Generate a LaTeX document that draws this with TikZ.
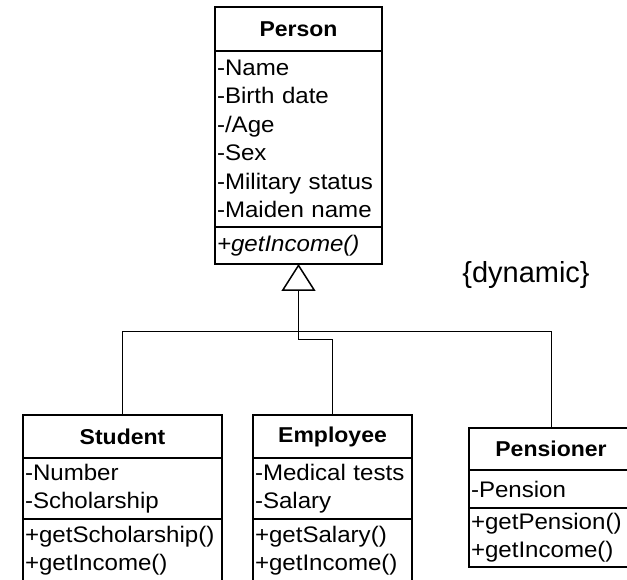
\documentclass[tikz,border=0pt]{standalone}
\usepackage{fontspec}
\setmainfont{Liberation Sans}[FakeStretch=1.07]
\newfontfamily\notefont{Liberation Sans}
\usetikzlibrary{positioning,arrows.meta}

\tikzset{
	classhead/.style={draw, line width=1.5pt, outer sep=0pt, inner xsep=2pt, inner ysep=0pt, text width=#1, align=center, font=\bfseries\fontsize{21.5}{28.5}\selectfont},
	classbody/.style={draw, line width=1.5pt, outer sep=0pt, inner xsep=2pt, inner ysep=0pt, text width=#1, align=left, font=\fontsize{22.5}{28.5}\selectfont},
	inherit/.style={line width=0.8pt},
}

\begin{document}
\begin{tikzpicture}[x=1pt,y=1pt]
		\useasboundingbox (0,0) rectangle (627,580);
		\clip (0,0) rectangle (627,580);

		\node[classhead=163pt, minimum height=44pt, anchor=north west] (person) at (215,573) {Person};
		\node[classbody=163pt, minimum height=176pt] (person-attr) [below=0pt of person] {-Name\\-Birth date\\-/Age\\-Sex\\-Military status\\-Maiden name};
		\node[classbody=163pt, minimum height=37pt] (person-ops) [below=0pt of person-attr] {\itshape +getIncome()};

		\node[classhead=195pt, minimum height=43pt, anchor=north west] (student) at (23,165) {Student};
		\node[classbody=195pt, minimum height=61pt] (student-attr) [below=0pt of student] {-Number\\-Scholarship};
		\node[classbody=195pt, minimum height=63pt] (student-ops) [below=0pt of student-attr] {+getScholarship()\\+getIncome()};

		\node[classhead=155pt, minimum height=43pt, anchor=north west] (employee) at (253,165) {Employee};
		\node[classbody=155pt, minimum height=61pt] (employee-attr) [below=0pt of employee] {-Medical tests\\-Salary};
		\node[classbody=155pt, minimum height=63pt] (employee-ops) [below=0pt of employee-attr] {+getSalary()\\+getIncome()};

		\node[classhead=160pt, minimum height=42pt, anchor=north west] (pensioner) at (469,152) {Pensioner};
		\node[classbody=160pt, minimum height=38pt] (pensioner-attr) [below=0pt of pensioner] {-Pension};
		\node[classbody=160pt, minimum height=59pt] (pensioner-ops) [below=0pt of pensioner-attr] {+getPension()\\+getIncome()};

		\node[font=\notefont\fontsize{29}{34}\selectfont] (dynamic) at (526,305) {\{dynamic\}};

		\draw[inherit] (student.north) -- ++(0,84) -| (pensioner.north);
		\draw[inherit, -{Triangle[open, length=27pt, width=34pt, line width=1.5pt]}] (employee.north) -- ++(0,76) -| (person-ops.south);
\end{tikzpicture}
\end{document}
